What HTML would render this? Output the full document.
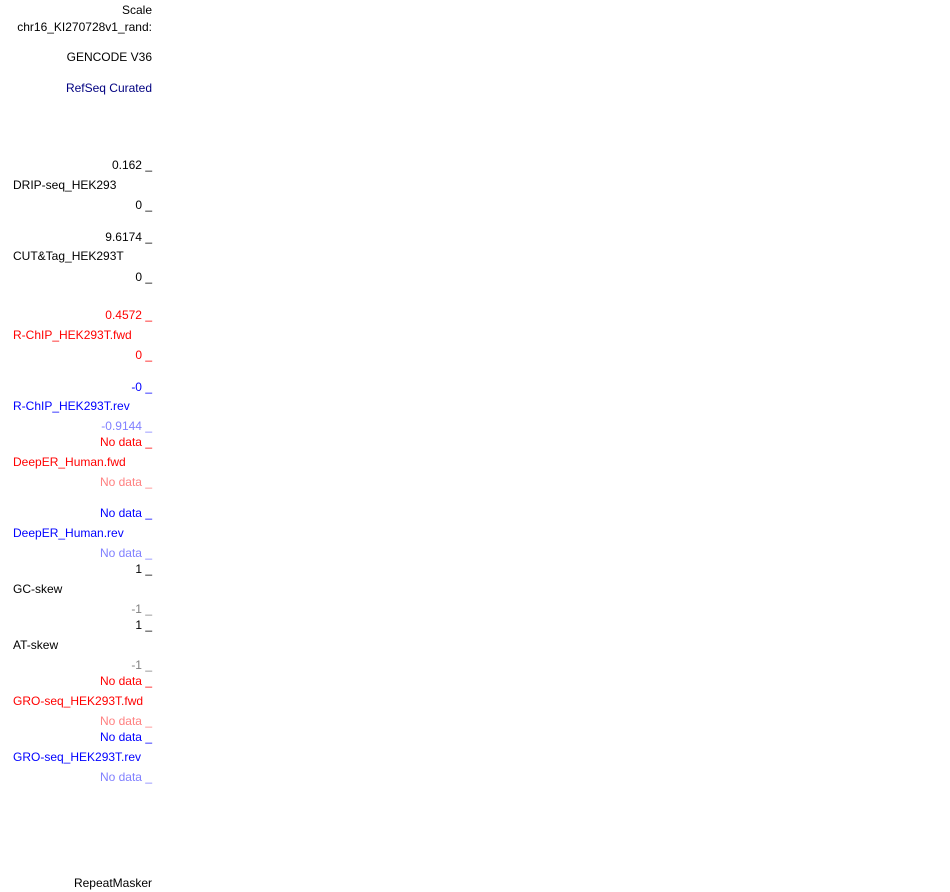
<!DOCTYPE html>
<html><head><meta charset="utf-8"><style>
body{margin:0;width:950px;height:892px;background:#fff;position:relative;overflow:hidden;font-family:"Liberation Sans",sans-serif;font-size:12px}
.r,.l{position:absolute;line-height:14px;white-space:nowrap}
.r{right:798px;text-align:right}
.l{left:13px}
.red{color:#f00}.blue{color:#00f}.pink{color:#ff8080}.lb{color:#8080ff}.gray{color:#808080}.navy{color:#000080}
</style></head><body>
<div class="r" style="top:3px">Scale</div>
<div class="r" style="top:20px">chr16_KI270728v1_rand:</div>
<div class="r" style="top:50px">GENCODE V36</div>
<div class="r navy" style="top:81px">RefSeq Curated</div>
<div class="r" style="top:158px">0.162 _</div>
<div class="l" style="top:178px">DRIP-seq_HEK293</div>
<div class="r" style="top:198px">0 _</div>
<div class="r" style="top:230px">9.6174 _</div>
<div class="l" style="top:249px">CUT&amp;Tag_HEK293T</div>
<div class="r" style="top:270px">0 _</div>
<div class="r red" style="top:308px">0.4572 _</div>
<div class="l red" style="top:328px">R-ChIP_HEK293T.fwd</div>
<div class="r red" style="top:348px">0 _</div>
<div class="r blue" style="top:380px">-0 _</div>
<div class="l blue" style="top:399px">R-ChIP_HEK293T.rev</div>
<div class="r lb" style="top:419px">-0.9144 _</div>
<div class="r red" style="top:435px">No data _</div>
<div class="l red" style="top:455px">DeepER_Human.fwd</div>
<div class="r pink" style="top:475px">No data _</div>
<div class="r blue" style="top:506px">No data _</div>
<div class="l blue" style="top:526px">DeepER_Human.rev</div>
<div class="r lb" style="top:546px">No data _</div>
<div class="r" style="top:562px">1 _</div>
<div class="l" style="top:582px">GC-skew</div>
<div class="r gray" style="top:602px">-1 _</div>
<div class="r" style="top:618px">1 _</div>
<div class="l" style="top:638px">AT-skew</div>
<div class="r gray" style="top:658px">-1 _</div>
<div class="r red" style="top:674px">No data _</div>
<div class="l red" style="top:694px">GRO-seq_HEK293T.fwd</div>
<div class="r pink" style="top:714px">No data _</div>
<div class="r blue" style="top:730px">No data _</div>
<div class="l blue" style="top:750px">GRO-seq_HEK293T.rev</div>
<div class="r lb" style="top:770px">No data _</div>
<div class="r" style="top:876px">RepeatMasker</div>
</body></html>
